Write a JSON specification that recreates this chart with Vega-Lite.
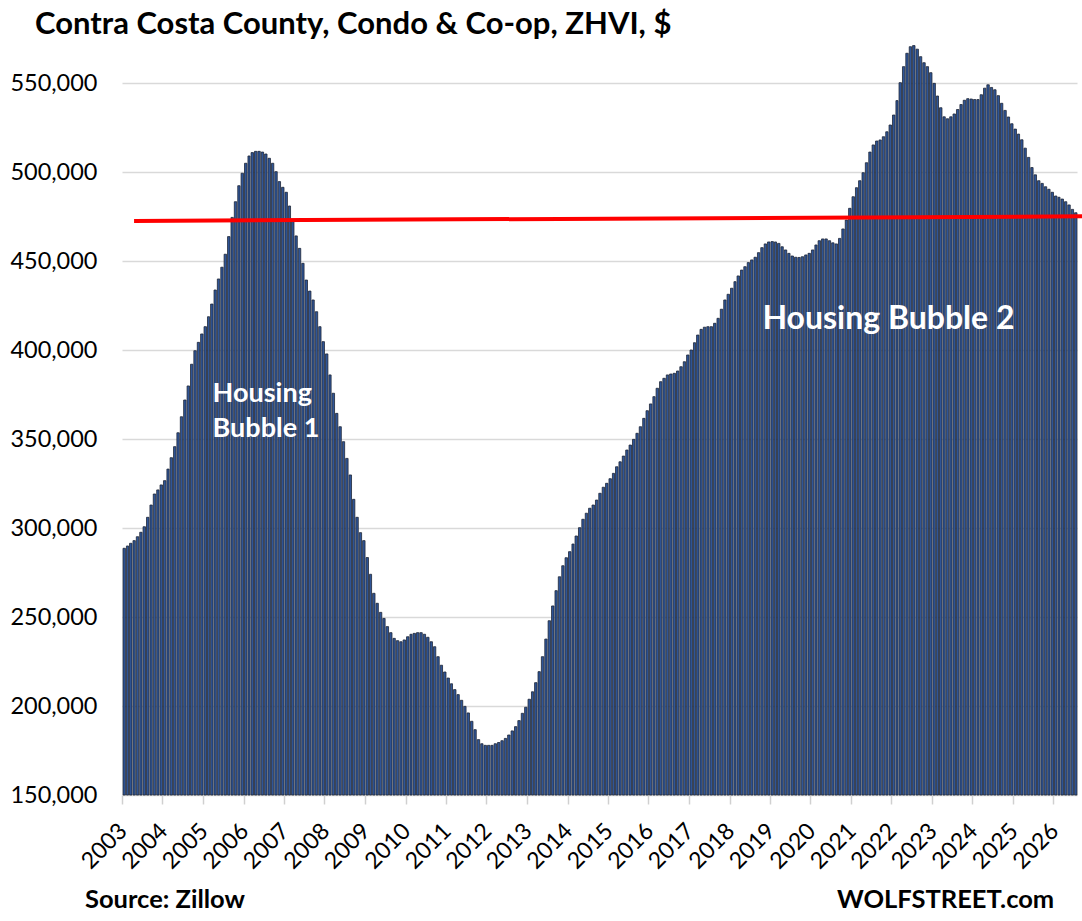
{
  "$schema": "https://vega.github.io/schema/vega-lite/v6.json",
  "width": 955,
  "height": 736,
  "autosize": {"type": "none"},
  "padding": {"left": 122, "top": 59, "right": 5, "bottom": 126},
  "background": "white",
  "title": {
    "text": "Contra Costa County, Condo & Co-op, ZHVI, $",
    "anchor": "start",
    "frame": "group",
    "dx": -87,
    "font": "Lato",
    "fontSize": 31,
    "fontWeight": "bold",
    "color": "black"
  },
  "datasets": {
    "zhvi": [
      {"month": "2003-01", "zhvi": 288600}, {"month": "2003-02", "zhvi": 289900}, {"month": "2003-03", "zhvi": 291400}, {"month": "2003-04", "zhvi": 292900},
      {"month": "2003-05", "zhvi": 295100}, {"month": "2003-06", "zhvi": 297600}, {"month": "2003-07", "zhvi": 300700}, {"month": "2003-08", "zhvi": 306000},
      {"month": "2003-09", "zhvi": 312900}, {"month": "2003-10", "zhvi": 319100}, {"month": "2003-11", "zhvi": 321400}, {"month": "2003-12", "zhvi": 324200},
      {"month": "2004-01", "zhvi": 326600}, {"month": "2004-02", "zhvi": 333100}, {"month": "2004-03", "zhvi": 339500}, {"month": "2004-04", "zhvi": 345700},
      {"month": "2004-05", "zhvi": 353500}, {"month": "2004-06", "zhvi": 362500}, {"month": "2004-07", "zhvi": 371900}, {"month": "2004-08", "zhvi": 379800},
      {"month": "2004-09", "zhvi": 392000}, {"month": "2004-10", "zhvi": 399600}, {"month": "2004-11", "zhvi": 404300}, {"month": "2004-12", "zhvi": 409000},
      {"month": "2005-01", "zhvi": 413100}, {"month": "2005-02", "zhvi": 418700}, {"month": "2005-03", "zhvi": 425800}, {"month": "2005-04", "zhvi": 433700},
      {"month": "2005-05", "zhvi": 439900}, {"month": "2005-06", "zhvi": 446500}, {"month": "2005-07", "zhvi": 453800}, {"month": "2005-08", "zhvi": 463700},
      {"month": "2005-09", "zhvi": 474500}, {"month": "2005-10", "zhvi": 483300}, {"month": "2005-11", "zhvi": 492300}, {"month": "2005-12", "zhvi": 499300},
      {"month": "2006-01", "zhvi": 504900}, {"month": "2006-02", "zhvi": 509000}, {"month": "2006-03", "zhvi": 510900}, {"month": "2006-04", "zhvi": 511600},
      {"month": "2006-05", "zhvi": 511600}, {"month": "2006-06", "zhvi": 511200}, {"month": "2006-07", "zhvi": 510100}, {"month": "2006-08", "zhvi": 507700},
      {"month": "2006-09", "zhvi": 504900}, {"month": "2006-10", "zhvi": 500200}, {"month": "2006-11", "zhvi": 494600}, {"month": "2006-12", "zhvi": 491400},
      {"month": "2007-01", "zhvi": 488600}, {"month": "2007-02", "zhvi": 480900}, {"month": "2007-03", "zhvi": 472700}, {"month": "2007-04", "zhvi": 464100},
      {"month": "2007-05", "zhvi": 457100}, {"month": "2007-06", "zhvi": 448700}, {"month": "2007-07", "zhvi": 439300}, {"month": "2007-08", "zhvi": 433100},
      {"month": "2007-09", "zhvi": 428100}, {"month": "2007-10", "zhvi": 421500}, {"month": "2007-11", "zhvi": 413100}, {"month": "2007-12", "zhvi": 404700},
      {"month": "2008-01", "zhvi": 397800}, {"month": "2008-02", "zhvi": 386000}, {"month": "2008-03", "zhvi": 375700}, {"month": "2008-04", "zhvi": 364400},
      {"month": "2008-05", "zhvi": 356900}, {"month": "2008-06", "zhvi": 348500}, {"month": "2008-07", "zhvi": 339100}, {"month": "2008-08", "zhvi": 329800},
      {"month": "2008-09", "zhvi": 316100}, {"month": "2008-10", "zhvi": 306000}, {"month": "2008-11", "zhvi": 297400}, {"month": "2008-12", "zhvi": 292900},
      {"month": "2009-01", "zhvi": 283400}, {"month": "2009-02", "zhvi": 274000}, {"month": "2009-03", "zhvi": 263300}, {"month": "2009-04", "zhvi": 257700},
      {"month": "2009-05", "zhvi": 252600}, {"month": "2009-06", "zhvi": 249200}, {"month": "2009-07", "zhvi": 244600}, {"month": "2009-08", "zhvi": 241200},
      {"month": "2009-09", "zhvi": 238000}, {"month": "2009-10", "zhvi": 236700}, {"month": "2009-11", "zhvi": 236100}, {"month": "2009-12", "zhvi": 237100},
      {"month": "2010-01", "zhvi": 238900}, {"month": "2010-02", "zhvi": 240300}, {"month": "2010-03", "zhvi": 240800}, {"month": "2010-04", "zhvi": 241200},
      {"month": "2010-05", "zhvi": 241200}, {"month": "2010-06", "zhvi": 240300}, {"month": "2010-07", "zhvi": 238600}, {"month": "2010-08", "zhvi": 236100},
      {"month": "2010-09", "zhvi": 233300}, {"month": "2010-10", "zhvi": 227700}, {"month": "2010-11", "zhvi": 222900}, {"month": "2010-12", "zhvi": 219100},
      {"month": "2011-01", "zhvi": 215700}, {"month": "2011-02", "zhvi": 212500}, {"month": "2011-03", "zhvi": 209200}, {"month": "2011-04", "zhvi": 206400},
      {"month": "2011-05", "zhvi": 203200}, {"month": "2011-06", "zhvi": 199800}, {"month": "2011-07", "zhvi": 196100}, {"month": "2011-08", "zhvi": 191400},
      {"month": "2011-09", "zhvi": 186700}, {"month": "2011-10", "zhvi": 181100}, {"month": "2011-11", "zhvi": 178800}, {"month": "2011-12", "zhvi": 177900},
      {"month": "2012-01", "zhvi": 177900}, {"month": "2012-02", "zhvi": 177900}, {"month": "2012-03", "zhvi": 178800}, {"month": "2012-04", "zhvi": 179500},
      {"month": "2012-05", "zhvi": 180500}, {"month": "2012-06", "zhvi": 181800}, {"month": "2012-07", "zhvi": 183700}, {"month": "2012-08", "zhvi": 186000},
      {"month": "2012-09", "zhvi": 188400}, {"month": "2012-10", "zhvi": 191800}, {"month": "2012-11", "zhvi": 195900}, {"month": "2012-12", "zhvi": 199300},
      {"month": "2013-01", "zhvi": 203800}, {"month": "2013-02", "zhvi": 208000}, {"month": "2013-03", "zhvi": 213100}, {"month": "2013-04", "zhvi": 219300},
      {"month": "2013-05", "zhvi": 227700}, {"month": "2013-06", "zhvi": 237600}, {"month": "2013-07", "zhvi": 247900}, {"month": "2013-08", "zhvi": 256200},
      {"month": "2013-09", "zhvi": 264800}, {"month": "2013-10", "zhvi": 272600}, {"month": "2013-11", "zhvi": 278800}, {"month": "2013-12", "zhvi": 283300},
      {"month": "2014-01", "zhvi": 286700}, {"month": "2014-02", "zhvi": 291000}, {"month": "2014-03", "zhvi": 295500}, {"month": "2014-04", "zhvi": 300200},
      {"month": "2014-05", "zhvi": 304900}, {"month": "2014-06", "zhvi": 308300}, {"month": "2014-07", "zhvi": 311100}, {"month": "2014-08", "zhvi": 312900},
      {"month": "2014-09", "zhvi": 315700}, {"month": "2014-10", "zhvi": 319500}, {"month": "2014-11", "zhvi": 322900}, {"month": "2014-12", "zhvi": 325100},
      {"month": "2015-01", "zhvi": 327700}, {"month": "2015-02", "zhvi": 330700}, {"month": "2015-03", "zhvi": 334400}, {"month": "2015-04", "zhvi": 337200},
      {"month": "2015-05", "zhvi": 340400}, {"month": "2015-06", "zhvi": 343800}, {"month": "2015-07", "zhvi": 346600}, {"month": "2015-08", "zhvi": 349800},
      {"month": "2015-09", "zhvi": 353200}, {"month": "2015-10", "zhvi": 356900}, {"month": "2015-11", "zhvi": 361600}, {"month": "2015-12", "zhvi": 365900},
      {"month": "2016-01", "zhvi": 369700}, {"month": "2016-02", "zhvi": 373800}, {"month": "2016-03", "zhvi": 378500}, {"month": "2016-04", "zhvi": 382200},
      {"month": "2016-05", "zhvi": 384100}, {"month": "2016-06", "zhvi": 386000}, {"month": "2016-07", "zhvi": 386500}, {"month": "2016-08", "zhvi": 386900},
      {"month": "2016-09", "zhvi": 388200}, {"month": "2016-10", "zhvi": 390600}, {"month": "2016-11", "zhvi": 393400}, {"month": "2016-12", "zhvi": 397200},
      {"month": "2017-01", "zhvi": 400000}, {"month": "2017-02", "zhvi": 404100}, {"month": "2017-03", "zhvi": 408400}, {"month": "2017-04", "zhvi": 411600},
      {"month": "2017-05", "zhvi": 412800}, {"month": "2017-06", "zhvi": 413100}, {"month": "2017-07", "zhvi": 413100}, {"month": "2017-08", "zhvi": 415000},
      {"month": "2017-09", "zhvi": 417800}, {"month": "2017-10", "zhvi": 422900}, {"month": "2017-11", "zhvi": 428100}, {"month": "2017-12", "zhvi": 431300},
      {"month": "2018-01", "zhvi": 434700}, {"month": "2018-02", "zhvi": 438400}, {"month": "2018-03", "zhvi": 441600}, {"month": "2018-04", "zhvi": 444900},
      {"month": "2018-05", "zhvi": 446800}, {"month": "2018-06", "zhvi": 449100}, {"month": "2018-07", "zhvi": 450600}, {"month": "2018-08", "zhvi": 452100},
      {"month": "2018-09", "zhvi": 454700}, {"month": "2018-10", "zhvi": 457500}, {"month": "2018-11", "zhvi": 459600}, {"month": "2018-12", "zhvi": 460700},
      {"month": "2019-01", "zhvi": 460900}, {"month": "2019-02", "zhvi": 460700}, {"month": "2019-03", "zhvi": 459900}, {"month": "2019-04", "zhvi": 458000},
      {"month": "2019-05", "zhvi": 456200}, {"month": "2019-06", "zhvi": 454300}, {"month": "2019-07", "zhvi": 452800}, {"month": "2019-08", "zhvi": 452100},
      {"month": "2019-09", "zhvi": 452000}, {"month": "2019-10", "zhvi": 452400}, {"month": "2019-11", "zhvi": 453400}, {"month": "2019-12", "zhvi": 454300},
      {"month": "2020-01", "zhvi": 456200}, {"month": "2020-02", "zhvi": 459000}, {"month": "2020-03", "zhvi": 461400}, {"month": "2020-04", "zhvi": 462400},
      {"month": "2020-05", "zhvi": 462400}, {"month": "2020-06", "zhvi": 461400}, {"month": "2020-07", "zhvi": 460200}, {"month": "2020-08", "zhvi": 459600},
      {"month": "2020-09", "zhvi": 462700}, {"month": "2020-10", "zhvi": 468000}, {"month": "2020-11", "zhvi": 473000}, {"month": "2020-12", "zhvi": 479600},
      {"month": "2021-01", "zhvi": 486100}, {"month": "2021-02", "zhvi": 491200}, {"month": "2021-03", "zhvi": 495100}, {"month": "2021-04", "zhvi": 499600},
      {"month": "2021-05", "zhvi": 505200}, {"month": "2021-06", "zhvi": 511200}, {"month": "2021-07", "zhvi": 515200}, {"month": "2021-08", "zhvi": 517400},
      {"month": "2021-09", "zhvi": 518000}, {"month": "2021-10", "zhvi": 519800}, {"month": "2021-11", "zhvi": 522600}, {"month": "2021-12", "zhvi": 526400},
      {"month": "2022-01", "zhvi": 532000}, {"month": "2022-02", "zhvi": 540100}, {"month": "2022-03", "zhvi": 550200}, {"month": "2022-04", "zhvi": 559200},
      {"month": "2022-05", "zhvi": 566700}, {"month": "2022-06", "zhvi": 570400}, {"month": "2022-07", "zhvi": 571000}, {"month": "2022-08", "zhvi": 569000},
      {"month": "2022-09", "zhvi": 564800}, {"month": "2022-10", "zhvi": 561400}, {"month": "2022-11", "zhvi": 559200}, {"month": "2022-12", "zhvi": 555800},
      {"month": "2023-01", "zhvi": 549800}, {"month": "2023-02", "zhvi": 542700}, {"month": "2023-03", "zhvi": 536100}, {"month": "2023-04", "zhvi": 531000},
      {"month": "2023-05", "zhvi": 529900}, {"month": "2023-06", "zhvi": 531000}, {"month": "2023-07", "zhvi": 532600}, {"month": "2023-08", "zhvi": 535100},
      {"month": "2023-09", "zhvi": 537900}, {"month": "2023-10", "zhvi": 540300}, {"month": "2023-11", "zhvi": 541200}, {"month": "2023-12", "zhvi": 541000},
      {"month": "2024-01", "zhvi": 540700}, {"month": "2024-02", "zhvi": 540700}, {"month": "2024-03", "zhvi": 543400}, {"month": "2024-04", "zhvi": 547100},
      {"month": "2024-05", "zhvi": 549000}, {"month": "2024-06", "zhvi": 547500}, {"month": "2024-07", "zhvi": 546200}, {"month": "2024-08", "zhvi": 542900},
      {"month": "2024-09", "zhvi": 538600}, {"month": "2024-10", "zhvi": 534600}, {"month": "2024-11", "zhvi": 530900}, {"month": "2024-12", "zhvi": 527100},
      {"month": "2025-01", "zhvi": 524100}, {"month": "2025-02", "zhvi": 521300}, {"month": "2025-03", "zhvi": 518100}, {"month": "2025-04", "zhvi": 513400},
      {"month": "2025-05", "zhvi": 508200}, {"month": "2025-06", "zhvi": 502500}, {"month": "2025-07", "zhvi": 498400}, {"month": "2025-08", "zhvi": 495100},
      {"month": "2025-09", "zhvi": 493600}, {"month": "2025-10", "zhvi": 491700}, {"month": "2025-11", "zhvi": 490300}, {"month": "2025-12", "zhvi": 488600},
      {"month": "2026-01", "zhvi": 486500}, {"month": "2026-02", "zhvi": 485800}, {"month": "2026-03", "zhvi": 484800}, {"month": "2026-04", "zhvi": 483300},
      {"month": "2026-05", "zhvi": 481500}, {"month": "2026-06", "zhvi": 479000}, {"month": "2026-07", "zhvi": 477100}
    ]
  },
  "layer": [
    {
      "data": {"name": "zhvi"},
      "mark": {"type": "bar", "fill": "#2f5597", "stroke": "#1e2636", "strokeWidth": 0.8},
      "encoding": {
        "x": {
          "field": "month",
          "timeUnit": "utcyearmonth",
          "type": "temporal",
          "title": null,
          "scale": {
            "type": "utc",
            "domain": [
              {"year": 2003, "month": 1, "date": 1, "utc": true},
              {"year": 2026, "month": 8, "date": 1, "utc": true}
            ]
          },
          "axis": {
            "labelExpr": "utcFormat(datum.value, '%Y')",
            "tickCount": {"interval": "year", "step": 1},
            "labelAngle": -45,
            "labelAlign": "right",
            "labelBaseline": "middle",
            "labelPadding": 23,
            "labelOffset": 1,
            "labelFontSize": 23,
            "labelFont": "Lato",
            "labelColor": "black",
            "labelOverlap": false,
            "labelFlush": false,
            "labelBound": false,
            "grid": false,
            "domainColor": "#d0d0d0",
            "tickColor": "#d0d0d0",
            "tickSize": 9,
            "tickWidth": 1.5
          }
        },
        "y": {
          "field": "zhvi",
          "type": "quantitative",
          "title": null,
          "scale": {"domain": [150000, 563484], "nice": false, "zero": false},
          "axis": {
            "values": [150000, 200000, 250000, 300000, 350000, 400000, 450000, 500000, 550000],
            "labelExpr": "format(datum.value, ',')",
            "labelFontSize": 23.5,
            "labelFont": "Lato",
            "labelColor": "black",
            "labelPadding": 25,
            "ticks": false,
            "domain": false,
            "gridColor": "#d9d9d9",
            "gridWidth": 1.5
          }
        },
        "y2": {"datum": 150000}
      }
    },
    {
      "data": {"values": [
        {"d": "2003-04-20", "v": 472500},
        {"d": "2026-09-28", "v": 475100}
      ]},
      "mark": {"type": "line", "color": "#ff0000", "strokeWidth": 4, "strokeCap": "butt"},
      "encoding": {
        "x": {"field": "d", "type": "temporal", "scale": {"type": "utc"}, "title": null},
        "y": {"field": "v", "type": "quantitative", "title": null}
      }
    },
    {
      "data": {"values": [
        {"d": "2005-03-28", "v": 370960, "t": "Housing"},
        {"d": "2005-03-28", "v": 351300, "t": "Bubble 1"}
      ]},
      "mark": {"type": "text", "align": "left", "baseline": "alphabetic", "font": "Lato", "fontWeight": "bold", "fontSize": 27, "color": "white"},
      "encoding": {
        "x": {"field": "d", "type": "temporal", "scale": {"type": "utc"}, "title": null},
        "y": {"field": "v", "type": "quantitative", "title": null},
        "text": {"field": "t"}
      }
    },
    {
      "data": {"values": [
        {"d": "2018-10-25", "v": 411600, "t": "Housing Bubble 2"}
      ]},
      "mark": {"type": "text", "align": "left", "baseline": "alphabetic", "font": "Lato", "fontWeight": "bold", "fontSize": 32, "color": "white"},
      "encoding": {
        "x": {"field": "d", "type": "temporal", "scale": {"type": "utc"}, "title": null},
        "y": {"field": "v", "type": "quantitative", "title": null},
        "text": {"field": "t"}
      }
    },
    {
      "data": {"values": [
        {"d": "2002-02-01", "v": 86500, "t": "Source: Zillow"},
        {"d": "2020-08-27", "v": 86500, "t": "WOLFSTREET.com"}
      ]},
      "mark": {"type": "text", "align": "left", "baseline": "alphabetic", "font": "Lato", "fontWeight": "bold", "fontSize": 25.5, "color": "black"},
      "encoding": {
        "x": {"field": "d", "type": "temporal", "scale": {"type": "utc"}, "title": null},
        "y": {"field": "v", "type": "quantitative", "title": null},
        "text": {"field": "t"}
      }
    }
  ],
  "config": {
    "view": {"stroke": null},
    "axisX": {
      "labelAngle": -45,
      "labelAlign": "right",
      "labelBaseline": "middle",
      "labelPadding": 23,
      "labelOffset": 1,
      "labelFontSize": 23,
      "labelFont": "Lato",
      "labelColor": "black",
      "tickSize": 9,
      "tickColor": "#d0d0d0",
      "domainColor": "#d0d0d0",
      "grid": false
    },
    "axisY": {
      "labelFontSize": 23.5,
      "labelFont": "Lato",
      "labelColor": "black",
      "labelPadding": 25,
      "ticks": false,
      "domain": false,
      "gridColor": "#d9d9d9",
      "gridWidth": 1.5
    }
  }
}
